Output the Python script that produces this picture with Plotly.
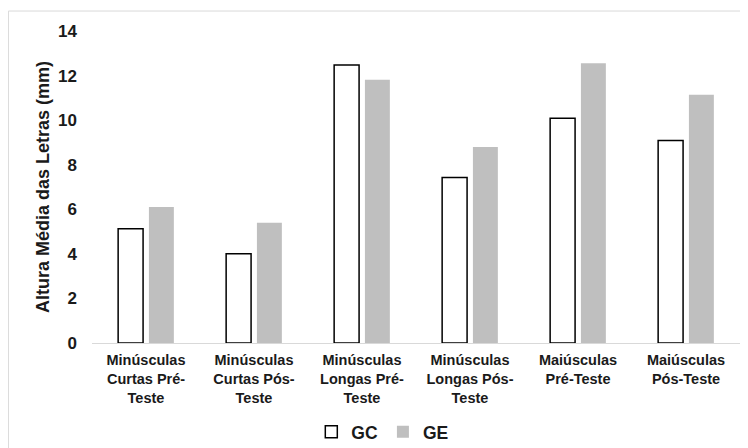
import plotly.graph_objects as go

categories = [
    "Minúsculas<br>Curtas Pré-<br>Teste",
    "Minúsculas<br>Curtas Pós-<br>Teste",
    "Minúsculas<br>Longas Pré-<br>Teste",
    "Minúsculas<br>Longas Pós-<br>Teste",
    "Maiúsculas<br>Pré-Teste",
    "Maiúsculas<br>Pós-Teste",
]
gc_values = [5.13, 4.0, 12.47, 7.43, 10.08, 9.09]
ge_values = [6.1, 5.4, 11.81, 8.79, 12.55, 11.14]
y_ticks = [0, 2, 4, 6, 8, 10, 12, 14]

FONT = "Liberation Sans, Arial, sans-serif"
TXT = "#1a1a1a"

fig = go.Figure()
fig.add_trace(go.Bar(
    name="<b>GC</b>", x=categories, y=gc_values,
    marker=dict(color="white", line=dict(color="black", width=1.5)),
))
fig.add_trace(go.Bar(
    name="<b>GE</b>", x=categories, y=ge_values,
    marker=dict(color="#bfbfbf", line=dict(width=0)),
))

fig.update_layout(
    width=748, height=448,
    margin=dict(l=84, r=16, t=23, b=113),
    paper_bgcolor="white", plot_bgcolor="white",
    barmode="group", bargap=0.43, bargroupgap=0.19,
    font=dict(family=FONT, color=TXT),
    showlegend=True,
    legend=dict(orientation="h", x=0.448, xanchor="center",
                yref="container", y=0.054, yanchor="middle",
                font=dict(size=17.5, family=FONT, color=TXT), itemwidth=30,
                tracegroupgap=0),
    xaxis=dict(
        tickvals=categories, ticktext=["<b>" + c.replace("<br>", "</b><br><b>") + "</b>" for c in categories],
        tickfont=dict(size=14.5, family=FONT, color=TXT),
        showline=True, linecolor="#d9d9d9", linewidth=1,
        showgrid=False, ticks="", tickangle=0, fixedrange=True,
        automargin=False, ticklabelstandoff=4,
    ),
    yaxis=dict(
        range=[0, 14], tickvals=y_ticks,
        ticktext=["<b>%d</b>" % v for v in y_ticks],
        tickfont=dict(size=17, family=FONT, color=TXT),
        showgrid=False, showline=False, zeroline=False, ticks="",
        ticklabelstandoff=14, automargin=False,
        title=dict(text="<b>Altura Média das Letras (mm)</b>",
                   font=dict(size=18, family=FONT, color=TXT), standoff=3),
    ),
    shapes=[dict(type="rect", xref="paper", yref="paper",
                 x0=-0.129, x1=1.05, y0=-0.4, y1=1.064,
                 line=dict(color="#d9d9d9", width=1), fillcolor="rgba(0,0,0,0)",
                 layer="below")],
)

fig.write_html("out.html")
